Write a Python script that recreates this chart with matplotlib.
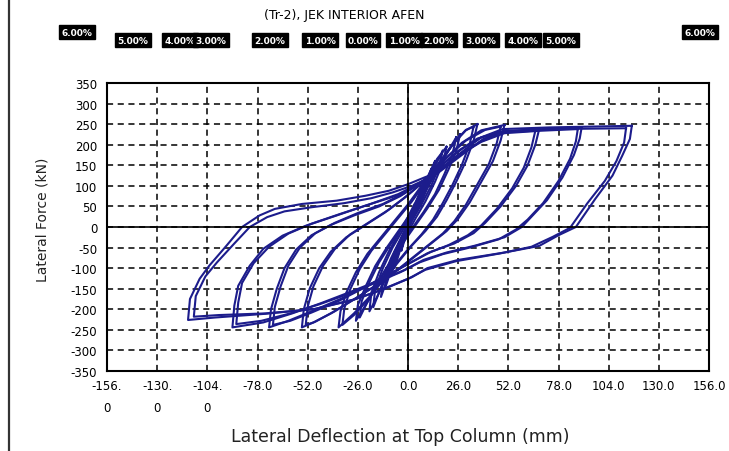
import numpy as np
import matplotlib.pyplot as plt
from matplotlib.lines import Line2D

# hysteresis loops (deflection mm, force kN)
loop_a_x = [116, 115, 111, 106, 97, 87, 78, 68, 50, 26, 10, 2, -13, -27, -48, -74, -100, -114,
            -113, -108, -103, -94, -86, -77, -69, -55, -37, -22, -10, 0, 13, 21, 30, 38, 49, 73, 116]
loop_a_y = [246, 214, 173, 125, 68, 0, -20, -46, -62, -80, -100, -122, -151, -175, -199, -211, -220, -226,
            -175, -126, -94, -45, 0, 28, 44, 56, 64, 76, 88, 104, 129, 157, 190, 218, 238, 242, 246]
loop_a2_x = [113, 112, 108, 102, 93, 84, 75, 64, 48, 25, 9, 0, -14, -29, -49, -74, -98, -111,
             -110, -105, -99, -90, -82, -73, -64, -50, -33, -19, -8, 2, 14, 22, 31, 39, 50, 75, 113]
loop_a2_y = [240, 205, 160, 112, 58, -2, -24, -48, -64, -83, -104, -126, -154, -178, -200, -210, -214, -218,
             -168, -120, -86, -40, 0, 24, 38, 48, 58, 70, 84, 100, 126, 154, 186, 214, 233, 238, 240]
loop_b_x = [90, 89, 86, 80, 72, 64, 59, 50, 35, 20, 8, -2, -15, -30, -45, -60, -75, -91,
            -90, -88, -82, -75, -65, -53, -37, -22, -6, 4, 16, 26, 37, 49, 70, 90]
loop_b_y = [242, 215, 175, 120, 65, 25, 0, -25, -45, -62, -80, -105, -130, -158, -185, -210, -232, -244,
            -191, -143, -94, -53, -21, 3, 28, 52, 76, 100, 137, 173, 206, 230, 238, 242]
loop_b2_x = [88, 87, 84, 78, 70, 62, 56, 47, 32, 18, 6, -4, -17, -31, -46, -61, -76, -89,
             -88, -86, -80, -72, -62, -50, -35, -20, -5, 5, 17, 27, 38, 50, 69, 88]
loop_b2_y = [238, 208, 166, 112, 58, 18, -6, -30, -50, -66, -86, -110, -136, -163, -188, -210, -228, -236,
             -184, -136, -88, -48, -16, 8, 32, 55, 80, 104, 140, 176, 207, 228, 234, 238]
loop_c_x = [68, 66, 62, 56, 48, 40, 34, 24, 12, 2, -8, -20, -35, -50, -62, -72,
            -71, -68, -64, -58, -50, -40, -28, -15, -4, 6, 16, 26, 36, 48, 68]
loop_c_y = [238, 200, 150, 100, 50, 10, -15, -40, -60, -85, -110, -140, -175, -205, -228, -244,
            -200, -150, -100, -55, -20, 5, 28, 50, 75, 105, 145, 185, 215, 232, 238]
loop_c2_x = [66, 64, 60, 54, 46, 38, 31, 21, 10, 0, -10, -22, -36, -50, -61, -70,
             -69, -66, -62, -56, -48, -38, -26, -13, -2, 8, 18, 28, 38, 49, 66]
loop_c2_y = [234, 194, 144, 94, 44, 4, -20, -44, -64, -90, -116, -146, -180, -208, -228, -238,
             -194, -144, -94, -50, -15, 10, 34, 56, 82, 112, 152, 190, 218, 230, 234]
loop_d_x = [50, 48, 44, 38, 32, 26, 20, 12, 4, -4, -14, -26, -38, -48, -55,
            -54, -51, -46, -40, -32, -22, -12, -2, 8, 18, 28, 38, 50]
loop_d_y = [248, 210, 160, 110, 60, 20, -10, -40, -70, -100, -135, -170, -205, -230, -244,
            -200, -150, -100, -60, -25, 5, 35, 70, 110, 160, 205, 235, 248]
loop_d2_x = [48, 46, 42, 36, 30, 24, 18, 10, 2, -6, -16, -28, -40, -49, -53,
             -52, -49, -44, -38, -30, -20, -10, 0, 10, 20, 30, 40, 48]
loop_d2_y = [244, 204, 154, 104, 54, 14, -16, -46, -76, -106, -140, -176, -210, -232, -238,
             -194, -144, -94, -54, -18, 12, 42, 78, 118, 168, 210, 236, 244]
loop_e_x = [36, 34, 30, 25, 20, 15, 9, 2, -5, -12, -20, -28, -36,
            -35, -32, -27, -21, -14, -7, 0, 7, 15, 23, 30, 36]
loop_e_y = [250, 210, 160, 110, 65, 25, -10, -45, -85, -125, -170, -210, -244,
            -205, -160, -110, -65, -25, 15, 55, 100, 150, 200, 235, 250]
loop_e2_x = [34, 32, 28, 23, 18, 13, 7, 0, -7, -14, -21, -28, -34,
             -33, -30, -25, -19, -12, -5, 2, 9, 17, 24, 30, 34]
loop_e2_y = [244, 202, 152, 102, 58, 18, -18, -54, -94, -134, -178, -214, -238,
             -198, -152, -102, -58, -18, 22, 62, 108, 158, 206, 236, 244]
loop_f_x = [27, 25, 21, 16, 10, 4, -2, -8, -14, -20, -27, -26, -22, -17, -11, -5, 1, 7, 13, 20, 27]
loop_f_y = [225, 185, 140, 90, 45, 5, -35, -80, -125, -175, -228, -190, -145, -95, -50, -10, 30, 75, 125, 180, 225]
loop_f2_x = [25, 23, 19, 14, 8, 2, -4, -10, -16, -21, -25, -24, -20, -15, -9, -3, 3, 9, 15, 21, 25]
loop_f2_y = [218, 176, 130, 80, 36, -4, -44, -90, -136, -182, -220, -180, -134, -86, -42, -2, 40, 86, 136, 186, 218]
loop_g_x = [18, 16, 12, 7, 2, -3, -8, -13, -18, -17, -13, -8, -3, 2, 7, 12, 18]
loop_g_y = [185, 145, 100, 55, 15, -30, -80, -135, -195, -150, -100, -50, -10, 35, 80, 130, 185]
loop_g2_x = [20, 18, 14, 9, 4, -1, -6, -11, -16, -20, -19, -15, -10, -5, 0, 5, 10, 15, 20]
loop_g2_y = [195, 155, 110, 62, 22, -22, -70, -120, -170, -205, -160, -110, -60, -18, 25, 70, 118, 165, 195]
loop_h_x = [12, 10, 6, 1, -4, -8, -12, -11, -7, -2, 3, 8, 12]
loop_h_y = [140, 100, 55, 10, -40, -95, -150, -110, -60, -15, 35, 90, 140]
loop_h2_x = [14, 12, 8, 3, -2, -7, -11, -14, -13, -9, -4, 1, 6, 10, 14]
loop_h2_y = [160, 118, 72, 25, -25, -80, -130, -170, -128, -78, -30, 20, 75, 120, 160]
loop_i_x = [7, 5, 1, -3, -7, -6, -2, 2, 7]
loop_i_y = [95, 55, 10, -40, -100, -60, -15, 35, 95]
loop_i2_x = [9, 7, 3, -1, -5, -9, -8, -4, 0, 4, 9]
loop_i2_y = [115, 75, 30, -15, -65, -120, -80, -35, 10, 55, 115]
loop_j_x = [3.5, 2, -1, -3.5, -2, 1, 3.5]
loop_j_y = [55, 20, -20, -58, -25, 15, 55]

x_ticks = [-156, -130, -104, -78, -52, -26, 0, 26, 52, 78, 104, 130, 156]
x_tick_labels = ["-156.\n0", "-130.\n0", "-104.\n0", "-78.0", "-52.0", "-26.0", "0.0",
                 "26.0", "52.0", "78.0", "104.0", "130.0", "156.0"]
y_ticks = [350, 300, 250, 200, 150, 100, 50, 0, -50, -100, -150, -200, -250, -300, -350]
y_tick_labels = [str(v) for v in y_ticks]
drift_labels = ["5.00%", "4.00%", "3.00%", "2.00%", "1.00%", "0.00%",
                "1.00%", "2.00%", "3.00%", "4.00%", "5.00%"]
drift_end_label = "6.00%"
title = "(Tr-2), JEK INTERIOR AFEN"

W, H = 729, 452
fig = plt.figure(figsize=(W / 100, H / 100), dpi=100)
ax = fig.add_axes([107 / W, 1 - 372 / H, 602 / W, 288 / H])

loops = [(loop_a_x, loop_a_y), (loop_a2_x, loop_a2_y), (loop_b_x, loop_b_y), (loop_b2_x, loop_b2_y),
         (loop_c_x, loop_c_y), (loop_c2_x, loop_c2_y), (loop_d_x, loop_d_y), (loop_d2_x, loop_d2_y),
         (loop_e_x, loop_e_y), (loop_e2_x, loop_e2_y), (loop_f_x, loop_f_y), (loop_f2_x, loop_f2_y),
         (loop_g_x, loop_g_y), (loop_g2_x, loop_g2_y), (loop_h_x, loop_h_y), (loop_h2_x, loop_h2_y),
         (loop_i_x, loop_i_y), (loop_i2_x, loop_i2_y), (loop_j_x, loop_j_y)]
for lx, ly in loops:
    ax.plot(lx, ly, color="#1c1c8c", lw=1.5, solid_joinstyle="round")

ax.set_xlim(-156, 156)
ax.set_ylim(-350, 350)
ax.set_xticks(x_ticks)
ax.set_xticklabels(x_tick_labels, fontsize=8.5, linespacing=1.9)
ax.set_yticks(y_ticks)
ax.set_yticklabels(y_tick_labels, fontsize=8.5)
ax.tick_params(axis="both", length=0)
ax.tick_params(axis="x", pad=6)
ax.tick_params(axis="y", pad=7)
ax.grid(True, color="black", lw=1.1, linestyle=(0, (4, 3)))
ax.axhline(0, color="black", lw=1.2)
ax.axvline(0, color="black", lw=1.2)
for s in ax.spines.values():
    s.set_linewidth(1.5)

fig.text(43 / W, 1 - 220 / H, "Lateral Force (kN)", rotation=90, ha="center", va="center",
         fontsize=10, color="#222222")
fig.text(400 / W, 1 - 437 / H, "Lateral Deflection at Top Column (mm)", ha="center", va="center",
         fontsize=12.5, color="#222222")
fig.text(344 / W, 1 - 15 / H, title, ha="center", va="center", fontsize=9)

box = dict(facecolor="black", edgecolor="black", pad=1.5)
drift_x = [133, 180, 211, 270, 320, 363, 404, 439, 481, 523, 561]
for lbl, px in zip(drift_labels, drift_x):
    fig.text(px / W, 1 - 41 / H, lbl, ha="center", va="center", fontsize=6.5, color="white",
             fontweight="bold", bbox=box)
for px in [77, 700]:
    fig.text(px / W, 1 - 33 / H, drift_end_label, ha="center", va="center", fontsize=6.5,
             color="white", fontweight="bold", bbox=box)

fig.add_artist(Line2D([9 / W, 9 / W], [0, 1], color="#333333", lw=1.6))

fig.savefig("out.png", dpi=100)
